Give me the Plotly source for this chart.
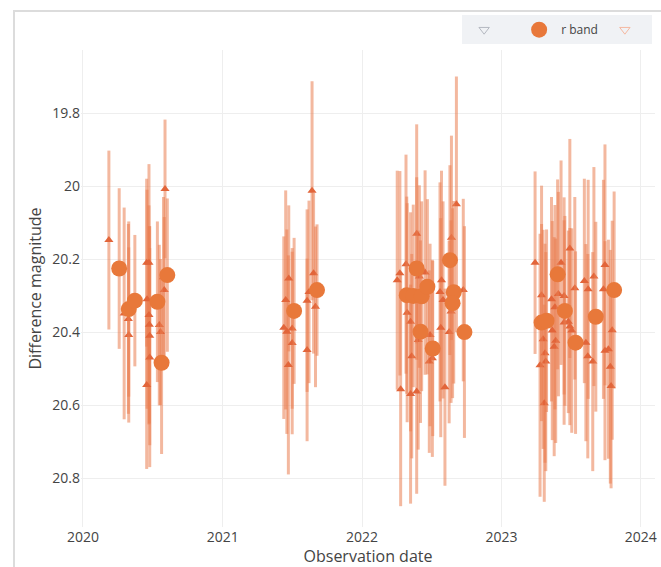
import pandas as pd
import plotly.graph_objects as go

# r band detections (circles): MJD, difference magnitude, error
det_mjd = [58944, 58969, 58985, 59044, 59055, 59070,
           59402, 59462,
           59723, 59697, 59714, 59736, 59751, 59733, 59765, 59810, 59820, 59817, 59848,
           60092, 60050, 60063, 60111, 60139, 60192, 60240]
det_mag = [20.226, 20.337, 20.314, 20.317, 20.484, 20.244,
           20.342, 20.285,
           20.226, 20.299, 20.301, 20.302, 20.276, 20.399, 20.445, 20.203, 20.291, 20.321, 20.400,
           20.242, 20.374, 20.369, 20.342, 20.429, 20.358, 20.285]
det_err = [0.22, 0.24, 0.18, 0.22, 0.25, 0.21,
           0.20, 0.18,
           0.25, 0.27, 0.25, 0.26, 0.24, 0.25, 0.24, 0.26, 0.25, 0.26, 0.29,
           0.26, 0.27, 0.25, 0.26, 0.25, 0.26, 0.27]

# forced photometry points (small triangles)
fp_mjd = [58917, 58957, 58968, 58969, 59016, 59017, 59016, 59022, 59022, 59023, 59024, 59024,
          59049, 59052, 59064, 59062, 59060,
          59449, 59453, 59458, 59441, 59436, 59436, 59388, 59380, 59375, 59383, 59397, 59397, 59387,
          59672, 59679, 59681, 59695, 59698, 59707, 59710, 59707, 59723, 59727, 59723, 59730, 59745,
          59756, 59758, 59764, 59784, 59788, 59792, 59786, 59797, 59808, 59813, 59814, 59827, 59845,
          60033, 60046, 60050, 60054, 60059, 60061, 60057, 60076, 60078, 60085, 60087, 60083, 60094,
          60101, 60109, 60109, 60120, 60124, 60129, 60124, 60137, 60162, 60166, 60171, 60172, 60184,
          60187, 60212, 60216, 60216, 60225, 60230, 60235, 60232]
fp_mag = [20.148, 20.349, 20.364, 20.408, 20.210, 20.310, 20.545, 20.210, 20.353, 20.380, 20.410, 20.470,
          20.381, 20.400, 20.008, 20.285, 20.250,
          20.013, 20.239, 20.331, 20.290, 20.314, 20.449, 20.253, 20.312, 20.388, 20.399, 20.390, 20.430, 20.490,
          20.258, 20.239, 20.557, 20.214, 20.347, 20.372, 20.466, 20.570, 20.131, 20.422, 20.563, 20.248, 20.237,
          20.481, 20.408, 20.472, 20.290, 20.258, 20.312, 20.388, 20.551, 20.400, 20.344, 20.142, 20.050, 20.285,
          20.210, 20.491, 20.299, 20.420, 20.458, 20.481, 20.595, 20.310, 20.396, 20.332, 20.424, 20.440, 20.296,
          20.210, 20.301, 20.374, 20.372, 20.385, 20.396, 20.171, 20.280, 20.260, 20.429, 20.466, 20.283, 20.481,
          20.248, 20.283, 20.216, 20.451, 20.447, 20.495, 20.395, 20.548]
fp_err = [0.245, 0.29, 0.26, 0.24, 0.23, 0.30, 0.23, 0.27, 0.30, 0.27, 0.30, 0.30,
          0.22, 0.20, 0.19, 0.20, 0.22,
          0.30, 0.22, 0.22, 0.25, 0.25, 0.25, 0.20, 0.30, 0.25, 0.28, 0.22, 0.25, 0.30,
          0.30, 0.28, 0.32, 0.30, 0.30, 0.30, 0.28, 0.30, 0.30, 0.30, 0.28, 0.25, 0.28,
          0.25, 0.25, 0.27, 0.30, 0.30, 0.27, 0.30, 0.27, 0.25, 0.25, 0.28, 0.35, 0.25,
          0.25, 0.36, 0.30, 0.30, 0.30, 0.30, 0.27, 0.28, 0.30, 0.28, 0.28, 0.30, 0.28,
          0.28, 0.27, 0.28, 0.25, 0.27, 0.28, 0.30, 0.25, 0.28, 0.27, 0.28, 0.30, 0.30,
          0.30, 0.30, 0.33, 0.30, 0.30, 0.32, 0.30, 0.28]

band_name = "r band"


def mjd_to_date(m):
    return pd.to_datetime([v - 40587 for v in m], unit="D")


ebar = dict(type="data", visible=True, thickness=3, width=0, color="rgba(233,125,80,0.55)")

fig = go.Figure()

fig.add_trace(go.Scatter(
    x=[None], y=[None], mode="markers", name="\u2002",
    marker=dict(symbol="triangle-down-open", size=9, color="#b4b8c0"),
    showlegend=True))

fig.add_trace(go.Scatter(
    x=mjd_to_date(fp_mjd), y=fp_mag, mode="markers", showlegend=False,
    marker=dict(symbol="triangle-up", size=8, color="#e2653a"),
    error_y=dict(array=fp_err, **ebar)))

fig.add_trace(go.Scatter(
    x=mjd_to_date(det_mjd), y=det_mag, mode="markers", name=band_name,
    marker=dict(symbol="circle", size=16, color="#e8783a"),
    error_y=dict(array=det_err, **ebar)))

fig.add_trace(go.Scatter(
    x=[None], y=[None], mode="markers", name="",
    marker=dict(symbol="triangle-down-open", size=9, color="#f5b8a0"),
    showlegend=True))

fig.add_shape(type="rect", xref="paper", yref="paper",
              x0=-0.1167, x1=1.2, y0=-0.3, y1=1.082,
              line=dict(color="#dcdcdc", width=2), fillcolor="rgba(0,0,0,0)", layer="below")

fig.update_layout(
    width=661, height=567,
    margin=dict(l=81, r=6, t=50, b=40),
    paper_bgcolor="white", plot_bgcolor="white",
    font=dict(family="Open Sans", color="#444"),
    legend=dict(orientation="h", x=0.995, xanchor="right", y=1.073, yanchor="top",
                itemwidth=34,
                bgcolor="#f0f2f5", font=dict(size=12, color="#444")),
    xaxis=dict(type="date", range=["2019-12-27", "2024-02-07"],
               title=dict(text="Observation date", font=dict(size=16), standoff=2),
               tickfont=dict(size=14), gridcolor="#eeeeee", zeroline=False,
               showline=False, automargin=False, dtick="M12", tickformat="%Y"),
    yaxis=dict(range=[20.934, 19.6274], title=dict(text="Difference magnitude", font=dict(size=16), standoff=6),
               tickfont=dict(size=14), gridcolor="#eeeeee", zeroline=False,
               tickvals=[19.8, 20, 20.2, 20.4, 20.6, 20.8], ticktext=["19.8", "20", "20.2", "20.4", "20.6", "20.8"],
               showline=False, automargin=False),
)

fig.write_html("out.html")
